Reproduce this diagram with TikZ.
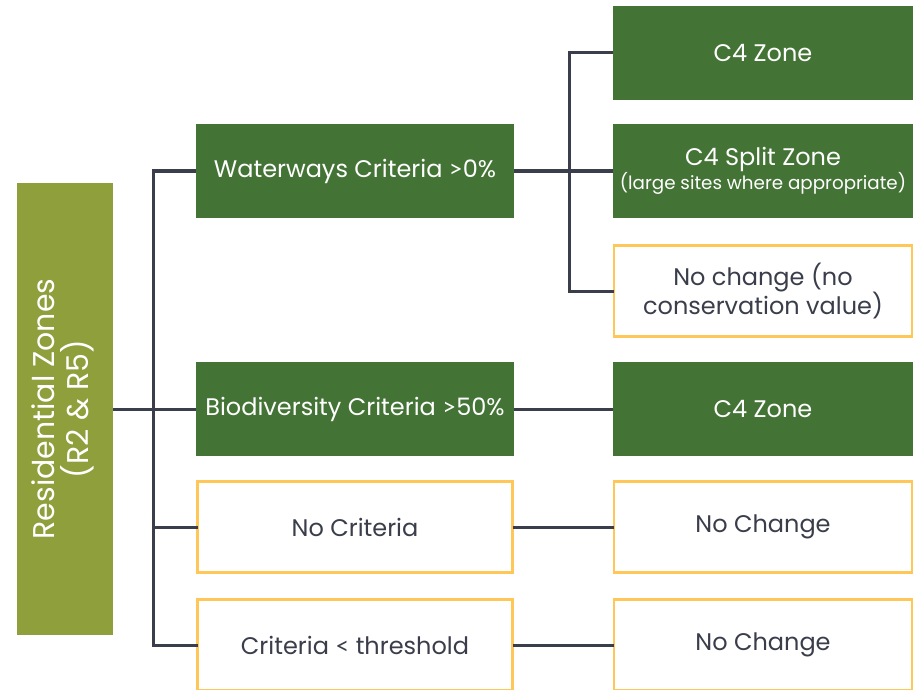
\documentclass[tikz,border=0pt]{standalone}
\usepackage{fontspec}
\setmainfont{Poppins}
\newfontfamily\ltfont{Lato}
\begin{document}
\definecolor{dkgreen}{HTML}{437435}
\definecolor{olive}{HTML}{8E9F3B}
\definecolor{yel}{HTML}{FFC658}
\definecolor{linec}{HTML}{3A3D4A}
\definecolor{txt}{HTML}{3A3D4A}
\begin{tikzpicture}[x=1pt,y=-1pt,
  box/.style={rectangle,inner sep=0pt,outer sep=0pt,minimum width=318pt,minimum height=94pt,align=center,font=\fontsize{24}{29}\selectfont},
  gbox/.style={box,fill=dkgreen,text=white},
  ybox/.style={box,draw=yel,line width=2.8pt,fill=white,text=txt,minimum width=315pt,minimum height=91pt},
  rbox/.style={minimum width=301pt},
  rybox/.style={minimum width=298pt},
  conn/.style={draw=linec,line width=3pt}]
\useasboundingbox (0,0) rectangle (913,690);
\fill[white] (0,0) rectangle (913,690);
% left
\node[rectangle,fill=olive,minimum width=96pt,minimum height=452pt,inner sep=0pt,outer sep=0pt,text=white,align=center,font=\fontsize{30}{34}\selectfont] (res) at (65,409) {\rotatebox{90}{\begin{tabular}{c}Residential Zones\\[-4pt](R2 \& R5)\end{tabular}}};
% middle
\node[gbox] (ww) at (355,171) {Waterways Criteria {\ltfont>}0\%};
\node[gbox] (bio) at (355,409) {Biodiversity Criteria {\ltfont>}50\%};
\node[ybox] (noc) at (355,527) {No Criteria};
\node[ybox] (thr) at (355,645) {Criteria {\ltfont<} threshold};
% right
\node[gbox,rbox] (c4a) at (763,53) {C4 Zone};
\node[gbox,rbox] (c4s) at (763,171) {C4 Split Zone\\[-5pt]{\fontsize{18.3}{21}\selectfont (large sites where appropriate)}};
\node[ybox,rybox] (ncv) at (763,291) {No change (no\\conservation value)};
\node[gbox,rbox] (c4b) at (763,409) {C4 Zone};
\node[ybox,rybox] (nc1) at (763,527) {No Change};
\node[ybox,rybox] (nc2) at (763,645) {No Change};
% connectors
\coordinate (tr) at (153,409);
\coordinate (wb) at (569,171);
\draw[conn] (res.east) -- (bio.west);
\draw[conn] (ww.west) -| (tr) |- (thr.west);
\draw[conn] (tr) |- (noc.west);
\draw[conn] (ww.east) -- (c4s.west);
\draw[conn] (c4a.west) -| (wb) |- (ncv.west);
\draw[conn] (bio.east) -- (c4b.west);
\draw[conn] (noc.east) -- (nc1.west);
\draw[conn] (thr.east) -- (nc2.west);
\end{tikzpicture}
\end{document}
